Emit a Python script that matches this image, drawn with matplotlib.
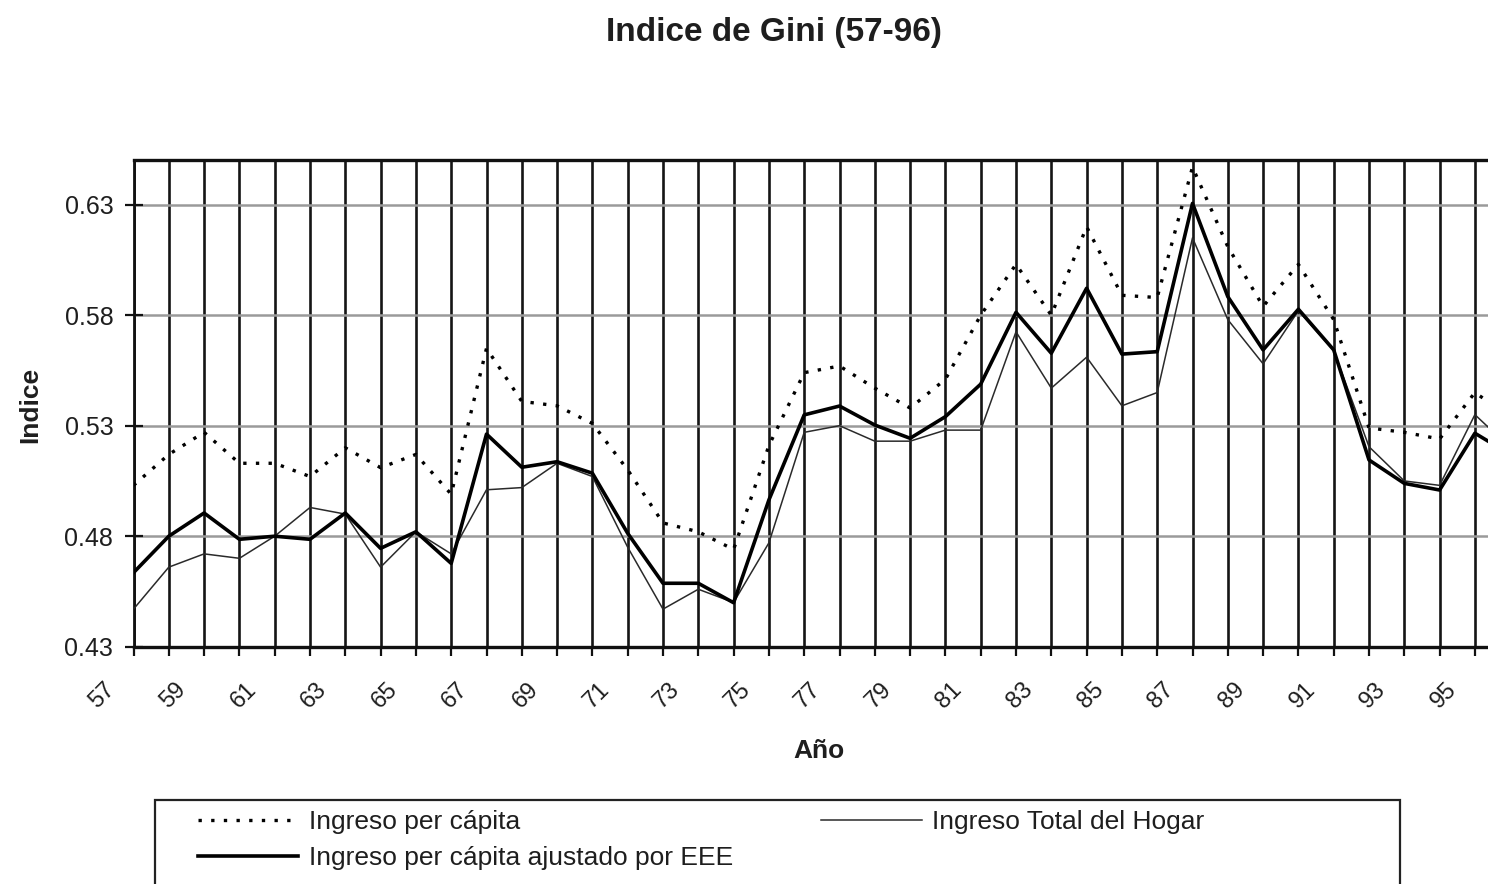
import matplotlib
matplotlib.use('Agg')
import matplotlib.pyplot as plt
from matplotlib.patches import Rectangle
import matplotlib.transforms as mtransforms

# ---------------- data ----------------
years = list(range(57, 97))

per_capita = [0.503, 0.517, 0.527, 0.513, 0.513, 0.507, 0.520, 0.511, 0.517, 0.499,
              0.565, 0.541, 0.539, 0.531, 0.510, 0.486, 0.482, 0.474, 0.521, 0.554,
              0.557, 0.547, 0.538, 0.551, 0.580, 0.603, 0.580, 0.620, 0.589, 0.588,
              0.647, 0.611, 0.584, 0.603, 0.578, 0.529, 0.527, 0.524, 0.545, 0.534]

total_hogar = [0.447, 0.466, 0.472, 0.470, 0.480, 0.493, 0.490, 0.466, 0.482, 0.472,
               0.501, 0.502, 0.513, 0.507, 0.475, 0.447, 0.456, 0.450, 0.477, 0.527,
               0.530, 0.523, 0.523, 0.528, 0.528, 0.5725, 0.547, 0.561, 0.539, 0.545,
               0.615, 0.578, 0.558, 0.582, 0.564, 0.5205, 0.505, 0.503, 0.535, 0.520]

ajustado = [0.4635, 0.480, 0.4905, 0.4786, 0.480, 0.4786, 0.4905, 0.4745, 0.482, 0.4677,
            0.5262, 0.5112, 0.5137, 0.5085, 0.4813, 0.4587, 0.4587, 0.4499, 0.4964, 0.5349,
            0.5389, 0.5303, 0.5243, 0.5341, 0.5488, 0.5813, 0.5628, 0.5922, 0.5624, 0.5635,
            0.6306, 0.5884, 0.5643, 0.5827, 0.5643, 0.5145, 0.5039, 0.5009, 0.5266, 0.517]

xtick_years = list(range(57, 96))
xtick_labels = [str(y) if (y - 57) % 2 == 0 else '' for y in xtick_years]
ytick_values = [0.43, 0.48, 0.53, 0.58, 0.63]
ytick_labels = ['0.43', '0.48', '0.53', '0.58', '0.63']

title_text = 'Indice de Gini (57-96)'
ylabel_text = 'Indice'
xlabel_text = 'Año'
legend_labels = ['Ingreso per cápita', 'Ingreso Total del Hogar',
                 'Ingreso per cápita ajustado por EEE']

# ---------------- style ----------------
plt.rcParams['font.family'] = ['Liberation Sans', 'DejaVu Sans']
TXT = '#1e1e1e'

W, H = 1488, 884
fig = plt.figure(figsize=(W / 100, H / 100), dpi=100)

left_px, bottom_px, top_px = 133.5, 646.7, 160.0
px_per_year = 35.3
px_per_unit = 2210.0

ax = fig.add_axes([left_px / W, (H - bottom_px) / H,
                   (W - left_px) / W, (bottom_px - top_px) / H])
ax.set_xlim(57, 57 + (W - left_px) / px_per_year)
ax.set_ylim(0.43, 0.43 + (bottom_px - top_px) / px_per_unit)

# grid
ax.set_axisbelow(True)
ax.xaxis.grid(True, color='#151515', lw=1.9)
ax.yaxis.grid(True, color='#9a9a9a', lw=1.8)

# lines
l_thin, = ax.plot(years, total_hogar, color='#2a2a2a', lw=1.1, zorder=3,
                  label=legend_labels[1])
l_dot, = ax.plot(years, per_capita, color='black', lw=2.4, linestyle=(0, (1, 2.8)),
                 zorder=4, label=legend_labels[0])
l_thick, = ax.plot(years, ajustado, color='black', lw=2.6, zorder=5,
                   label=legend_labels[2])

# spines
ax.spines['right'].set_visible(False)
ax.spines['top'].set_linewidth(2.4)
ax.spines['bottom'].set_linewidth(2.4)
ax.spines['left'].set_linewidth(2.0)
for s in ax.spines.values():
    s.set_color('#111111')

# ticks
ax.set_yticks(ytick_values)
ax.set_yticklabels(ytick_labels)
ax.tick_params(axis='y', direction='inout', length=13, width=1.6, pad=8,
               labelsize=18, labelcolor=TXT, color='#111111')

ax.set_xticks(xtick_years)
ax.set_xticklabels(xtick_labels, rotation=45, ha='right', va='center',
                   rotation_mode='anchor')
ax.tick_params(axis='x', direction='out', length=6.5, width=1.6, pad=22,
               labelsize=17, labelcolor=TXT, color='#111111')
offset = mtransforms.ScaledTranslation(-0.22, 0, fig.dpi_scale_trans)
for lbl in ax.get_xticklabels():
    lbl.set_transform(lbl.get_transform() + offset)

# texts
fig.text(774 / W, 1 - 32 / H, title_text, ha='center', va='center',
         fontsize=24, fontweight='bold', color=TXT)
fig.text(30 / W, 1 - 405 / H, ylabel_text, ha='center', va='center',
         rotation=90, fontsize=19, fontweight='bold', color=TXT)
fig.text(819 / W, 1 - 751 / H, xlabel_text, ha='center', va='center',
         fontsize=19, fontweight='bold', color=TXT)

# legend
fig.legend(handles=[l_dot, l_thick, l_thin],
           labels=[legend_labels[0], legend_labels[2], legend_labels[1]],
           loc='upper left', bbox_to_anchor=(198 / W, 1 - 810 / H), ncol=2,
           frameon=False, fontsize=19, handlelength=3.8, handletextpad=0.4,
           columnspacing=3.35, labelspacing=0.45, borderpad=0, borderaxespad=0,
           labelcolor=TXT)
fig.patches.append(Rectangle((155 / W, -16 / H), 1245 / W, 100 / H,
                             transform=fig.transFigure, fill=False,
                             lw=1.6, edgecolor='#222222'))

fig.savefig('out.png', dpi=100)
